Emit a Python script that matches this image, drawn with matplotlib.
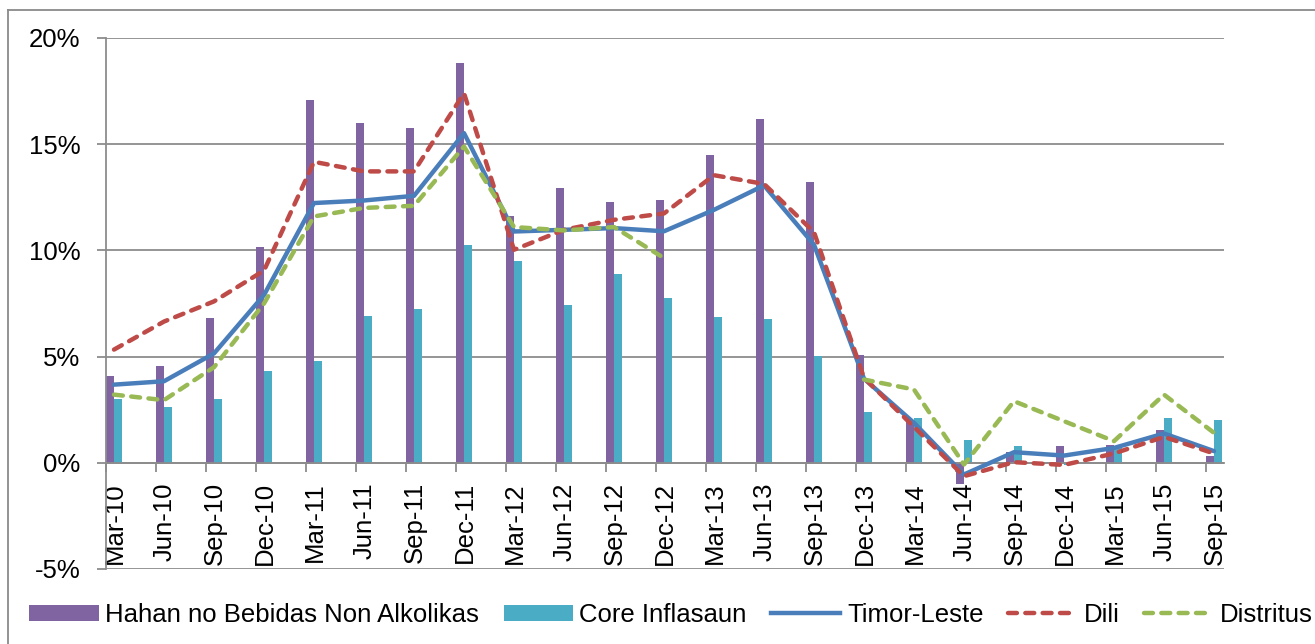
import numpy as np
import matplotlib.pyplot as plt
from matplotlib.patches import Patch
from matplotlib.lines import Line2D

# quarterly categories
categories = ["Mar-10", "Jun-10", "Sep-10", "Dec-10", "Mar-11", "Jun-11", "Sep-11", "Dec-11",
              "Mar-12", "Jun-12", "Sep-12", "Dec-12", "Mar-13", "Jun-13", "Sep-13", "Dec-13",
              "Mar-14", "Jun-14", "Sep-14", "Dec-14", "Mar-15", "Jun-15", "Sep-15"]

# values in percent
hahan = [4.07, 4.58, 6.8, 10.15, 17.09, 15.99, 15.76, 18.84, 11.6, 12.93, 12.26, 12.38,
         14.5, 16.18, 13.24, 5.09, 1.9, -1.02, 0.5, 0.77, 0.86, 1.53, 0.34]
core = [3.01, 2.63, 3.01, 4.31, 4.78, 6.93, 7.26, 10.27, 9.52, 7.45, 8.9, 7.76,
        6.85, 6.77, 5.01, 2.38, 2.12, 1.05, 0.81, -0.1, 0.8, 2.12, 2.0]
timor = [3.68, 3.84, 5.15, 7.9, 12.23, 12.35, 12.57, 15.52, 10.89, 10.97, 11.05, 10.9,
         11.91, 13.06, 10.27, 3.96, 1.88, -0.55, 0.5, 0.34, 0.7, 1.38, 0.55]
dili = [5.33, 6.65, 7.6, 9.05, 14.17, 13.72, 13.72, 17.4, 10.03, 10.97, 11.44, 11.74,
        13.54, 13.13, 10.86, 4.0, 1.69, -0.63, 0.03, -0.1, 0.44, 1.22, 0.44]
distritus = [3.21, 2.95, 4.5, 7.5, 11.6, 12.0, 12.1, 14.89, 11.1, 10.94, 11.1, 9.64,
             np.nan, np.nan, np.nan, 3.92, 3.45, -0.08, 2.9, 1.96, 1.02, 3.21, 1.41]

yticks = [-5, 0, 5, 10, 15, 20]
ytick_labels = ["-5%", "0%", "5%", "10%", "15%", "20%"]

plt.rcParams["font.family"] = ["Liberation Sans", "DejaVu Sans"]
FS = 18.5
GRID = "#8c8c8c"

fig = plt.figure(figsize=(13.15, 6.44), dpi=100)
ax = fig.add_axes([106 / 1315, 1 - 569 / 644, (1224 - 106) / 1315, (569 - 38) / 644])

# move the category axis to 0% first (this resets the ticks)
ax.spines["bottom"].set_position(("data", 0))
ax.spines["bottom"].set_color(GRID)
ax.spines["bottom"].set_linewidth(1.3)
ax.spines["left"].set_color(GRID)
ax.spines["left"].set_linewidth(1.3)
ax.spines["top"].set_visible(False)
ax.spines["right"].set_visible(False)

x = np.arange(len(categories))
bw = 0.16
ax.bar(x, hahan, width=bw, align="edge", color="#8064A2", zorder=2)
ax.bar(x + bw, core, width=bw, align="edge", color="#4BACC6", zorder=2)

xl = x + bw
ax.plot(xl, timor, color="#4A7EBB", lw=3.2, solid_capstyle="round", zorder=3)
ax.plot(xl, dili, color="#BE4B48", lw=3.2, dashes=(2.0, 1.9), dash_capstyle="round", zorder=4)
ax.plot(xl, distritus, color="#98B954", lw=3.2, dashes=(2.0, 1.9), dash_capstyle="round", zorder=4)

ax.set_xlim(0, 22.36)
ax.set_ylim(-5, 20)
ax.set_yticks(yticks)
ax.set_yticklabels(ytick_labels, fontsize=FS)
ax.yaxis.grid(True, color=GRID, lw=1.3)
ax.set_axisbelow(True)

# category labels centred on the bar groups, tick marks on category boundaries
ax.set_xticks(x + 0.17)
ax.set_xticklabels(categories, rotation=90, fontsize=FS)
ax.set_xticks(x, minor=True)
ax.tick_params(axis="x", which="major", length=0, pad=14)
ax.tick_params(axis="x", which="minor", length=6.5, width=1.3, color=GRID, direction="out")
ax.tick_params(axis="y", length=6.5, width=1.3, color=GRID, pad=12)

handles = [
    Patch(facecolor="#8064A2", label="Hahan no Bebidas Non Alkolikas"),
    Patch(facecolor="#4BACC6", label="Core Inflasaun"),
    Line2D([], [], color="#4A7EBB", lw=3.2, label="Timor-Leste"),
    Line2D([], [], color="#BE4B48", lw=3.2, dashes=(2.0, 1.9), dash_capstyle="round", label="Dili"),
    Line2D([], [], color="#98B954", lw=3.2, dashes=(2.0, 1.9), dash_capstyle="round", label="Distritus"),
]
fig.legend(handles=handles, loc="center", bbox_to_anchor=(671 / 1315, 1 - 615 / 644), ncol=5,
           frameon=False, fontsize=FS, handlelength=2.7, handleheight=0.62,
           handletextpad=0.25, columnspacing=0.95, borderaxespad=0)

# chart area border (left and top visible)
fig.add_artist(Line2D([8 / 1315, 8 / 1315], [0, 1 - 10 / 644], transform=fig.transFigure,
                      color="#8a8a8a", lw=1.3))
fig.add_artist(Line2D([8 / 1315, 1], [1 - 10 / 644, 1 - 10 / 644], transform=fig.transFigure,
                      color="#8a8a8a", lw=1.3))

fig.savefig("out.png", dpi=100)
